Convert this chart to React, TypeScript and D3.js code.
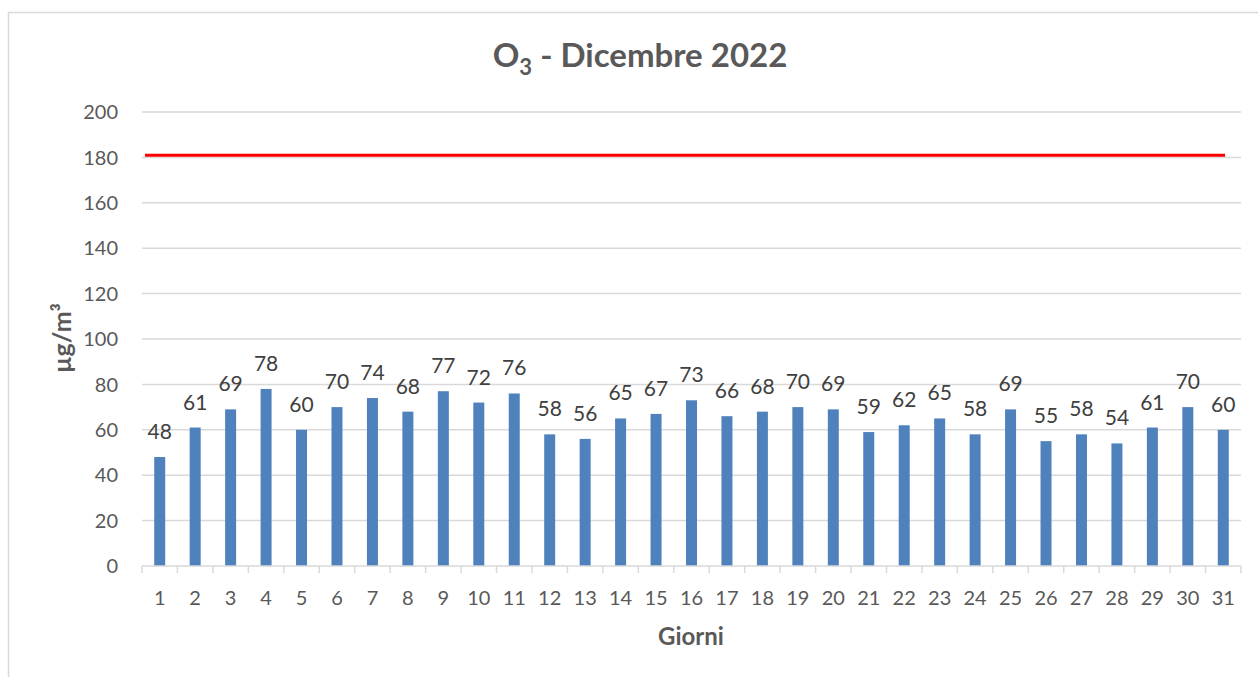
import React from "react";
import * as d3 from "d3";

const days: string[] = Array.from({ length: 31 }, (_, i) => String(i + 1));
const values: number[] = [48, 61, 69, 78, 60, 70, 74, 68, 77, 72, 76, 58, 56, 65, 67, 73, 66, 68, 70, 69, 59, 62, 65, 58, 69, 55, 58, 54, 61, 70, 60];
const yTicks: number[] = [0, 20, 40, 60, 80, 100, 120, 140, 160, 180, 200];
const limitValue = 181;

const W = 1258;
const H = 677;
const FONT = "Lato, 'Open Sans', sans-serif";

export default function App() {
  const left = 142;
  const right = 1241;
  const top = 112;
  const bottom = 566;

  const x = d3.scaleBand<string>().domain(days).range([left, right]).paddingInner(0.69).paddingOuter(0.345);
  const xb = d3.scaleBand<string>().domain(days).range([left, right]);
  const y = d3.scaleLinear().domain([0, 200]).range([bottom, top]);

  const grid = "#d9d9d9";
  const lineStart = xb(days[0])! + 3;
  const lineEnd = xb(days[days.length - 1])! + xb.bandwidth() * 0.55;

  return (
    <svg width={W} height={H} style={{ position: "absolute", left: 0, top: 0, background: "#fff" }}>
      <rect x={8.5} y={12.5} width={W + 20} height={H + 20} fill="#fff" stroke={grid} strokeWidth={1.5} />
      <text x={640} y={67} textAnchor="middle" fontFamily={FONT} fontWeight="bold" fontSize={33} fill="#595959">
        O<tspan fontSize={22} dy={8}>3</tspan>
        <tspan dy={-8}> - Dicembre 2022</tspan>
      </text>
      {yTicks.map((t) => (
        <g key={t}>
          {t > 0 && <line x1={left} x2={right} y1={y(t)} y2={y(t)} stroke={grid} strokeWidth={1.5} />}
          <text x={118} y={y(t)} dy="0.36em" textAnchor="end" fontFamily={FONT} fontSize={20} fill="#595959">
            {t}
          </text>
        </g>
      ))}
      <line x1={lineStart} x2={lineEnd} y1={y(limitValue)} y2={y(limitValue)} stroke="#ff0000" strokeWidth={3} />
      {values.map((v, i) => (
        <g key={i}>
          <rect x={x(days[i])!} y={y(v)} width={x.bandwidth()} height={y(0) - y(v)} fill="#4f81bd" />
          <text x={x(days[i])! + x.bandwidth() / 2} y={y(v) - 18} textAnchor="middle" fontFamily={FONT} fontSize={21} fill="#404040">
            {v}
          </text>
        </g>
      ))}
      <line x1={left} x2={right} y1={bottom} y2={bottom} stroke={grid} strokeWidth={1.5} />
      {[...days, "end"].map((d, i) => {
        const xx = i < days.length ? xb(d)! : right;
        return <line key={"t" + i} x1={xx} x2={xx} y1={bottom} y2={bottom + 7} stroke={grid} strokeWidth={1.5} />;
      })}
      {days.map((d) => (
        <text key={"l" + d} x={xb(d)! + xb.bandwidth() / 2} y={598} dy="0.36em" textAnchor="middle" fontFamily={FONT} fontSize={20} fill="#595959">
          {d}
        </text>
      ))}
      <text x={691} y={636} dy="0.36em" textAnchor="middle" fontFamily={FONT} fontWeight="bold" fontSize={24} fill="#595959">
        Giorni
      </text>
      <text transform={`translate(62,${338}) rotate(-90)`} dy="0.36em" textAnchor="middle" fontFamily={FONT} fontWeight="bold" fontSize={25} fill="#595959">
        µg/m³
      </text>
    </svg>
  );
}
